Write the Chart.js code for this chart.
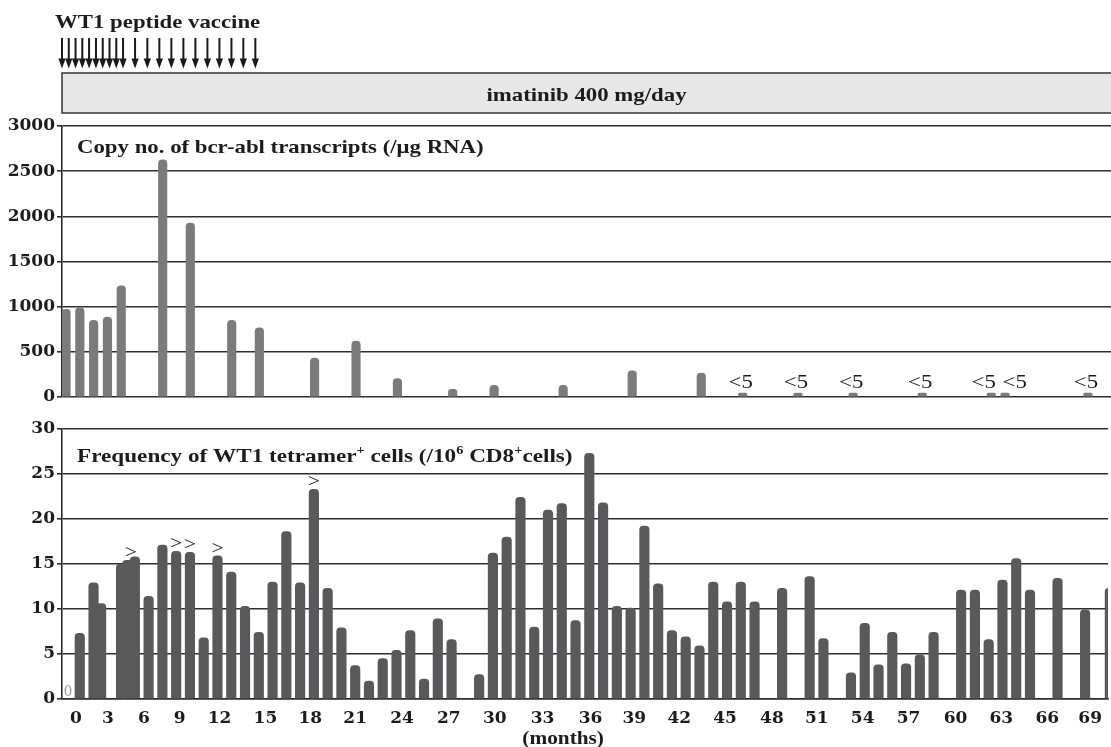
<!DOCTYPE html>
<html>
<head>
<meta charset="utf-8">
<script src="https://cdn.jsdelivr.net/npm/chart.js@4.4.0/dist/chart.umd.min.js"></script>
<style>
  html, body { margin: 0; padding: 0; background: #fff; }
  #wrap { position: relative; width: 1111px; height: 747px; overflow: hidden; }
  canvas { position: absolute; left: 0; }
  #topChart { top: 0; }
  #bottomChart { top: 410px; }
</style>
</head>
<body>
<div id="wrap">
  <canvas id="topChart" width="1111" height="410"></canvas>
  <canvas id="bottomChart" width="1111" height="337"></canvas>
</div>
<script>
// ==========================
// DATA (x = sample column / slot as laid out in the figure)
// ==========================
const xMin = -0.29;
const xMax = 75.67;

// months axis labels and the slot they sit under
const monthTickLabels = [0, 3, 6, 9, 12, 15, 18, 21, 24, 27, 30, 33, 36, 39, 42, 45, 48, 51, 54, 57, 60, 63, 66, 69];
const monthTickSlots = [0.72, 3.04, 5.65, 8.25, 11.15, 14.48, 17.74, 21.0, 24.4, 27.8, 31.14, 34.6, 38.09, 41.27, 44.53, 47.86, 51.26, 54.52, 57.85, 61.18, 64.59, 67.92, 71.25, 74.37];
const monthsTitleSlot = 36.1; // "(months)" sits under the 33-36 gap

// WT1 peptide vaccine injections
const vaccineSlots = [-0.29, 0.2, 0.69, 1.18, 1.67, 2.17, 2.66, 3.15, 3.64, 4.13,
  5.0, 5.89, 6.76, 7.63, 8.5, 9.37, 10.24, 11.11, 11.98, 12.84, 13.71];

// bcr-abl copies (/ug RNA)
const bcrSlots = [0, 1, 2, 3, 4, 7, 9, 12, 14, 18, 21, 24, 28, 31, 36, 41, 46, 49, 53, 57, 62, 67, 68, 74];
const bcrCopies = [970, 988, 850, 885, 1230, 2625, 1925, 850, 765, 430, 620, 205, 85, 130, 130, 290, 265, 5, 5, 5, 5, 5, 5, 5];
const bcrBelowLimit = [49, 53, 57, 62, 67, 68, 74]; // "<5"

// WT1 tetramer+ cells (/10^6 CD8+ cells)
const wt1Slots = [1, 2, 2.55, 4, 4.45, 5, 6, 7, 8, 9, 10, 11, 12, 13, 14, 15, 16, 17, 18, 19, 20,
  21, 22, 23, 24, 25, 26, 27, 28, 30, 31, 32, 33, 34, 35, 36, 37, 38, 39, 40, 41, 42, 43, 44, 45,
  46, 47, 48, 49, 50, 52, 54, 55, 57, 58, 59, 60, 61, 62, 63, 65, 66, 67, 68, 69, 70, 72, 74, 75.8];
const wt1Freq = [7.3, 12.9, 10.6, 15.0, 15.4, 15.8, 11.4, 17.1, 16.4, 16.3, 6.8, 15.9, 14.1, 10.3, 7.4, 13.0, 18.6, 12.9, 23.3, 12.3, 7.9,
  3.7, 2.0, 4.5, 5.4, 7.6, 2.2, 8.9, 6.6, 2.7, 16.2, 18.0, 22.4, 8.0, 21.0, 21.7, 8.7, 27.3, 21.8, 10.3, 10.1, 19.2, 12.8, 7.6, 6.9,
  5.9, 13.0, 10.8, 13.0, 10.8, 12.3, 13.6, 6.7, 2.9, 8.4, 3.8, 7.4, 3.9, 4.9, 7.4, 12.1, 12.1, 6.6, 13.2, 15.6, 12.1, 13.4, 9.9, 12.3];
const wt1AboveSlots = [4.7, 8, 9, 11, 18]; // ">"
const wt1ZeroSlot = 0.15;                 // measured 0

// ==========================
// STYLE
// ==========================
const serif = '"Liberation Serif", "Times New Roman", serif';
const ink = "#1c1c1c";
const gridColor = "#2e2e2e";
const tickFont = { family: '"DejaVu Serif", serif', size: 17, weight: "bold" };

function stretchText(ctx, text, x, y, font, align, sx) {
  ctx.save();
  ctx.font = font;
  ctx.fillStyle = ink;
  ctx.textAlign = align;
  ctx.textBaseline = "alphabetic";
  ctx.translate(x, y);
  ctx.scale(sx, 1);
  ctx.fillText(text, 0, 0);
  ctx.restore();
}

// text with superscript pieces, left aligned
function drawRuns(ctx, runs, x, y, size, sx) {
  ctx.save();
  ctx.fillStyle = ink;
  ctx.textBaseline = "alphabetic";
  ctx.translate(x, y);
  ctx.scale(sx, 1);
  let cx = 0;
  runs.forEach(r => {
    const s = r.sup ? size * 0.62 : size;
    ctx.font = "bold " + s + "px " + serif;
    ctx.fillText(r.t, cx, r.sup ? -size * 0.42 : 0);
    cx += ctx.measureText(r.t).width;
  });
  ctx.restore();
}

function yAxis(max, step) {
  return {
    min: 0, max: max,
    afterFit(scale) { scale.width = 62; },
    ticks: { stepSize: step, padding: 2, color: ink, font: tickFont, callback: v => String(v) },
    grid: { color: gridColor, lineWidth: 1.6, tickLength: 5, drawTicks: true },
    border: { display: true, color: "#2a2a2a", width: 1.6 }
  };
}

// ==========================
// TOP PANEL: bcr-abl
// ==========================
const topDecor = {
  id: "topDecor",
  afterDraw(chart) {
    const ctx = chart.ctx;
    const xs = chart.scales.x, ys = chart.scales.y;
    const area = chart.chartArea;

    stretchText(ctx, "WT1 peptide vaccine", 55, 28, "bold 19px " + serif, "left", 1.2);

    // vaccine arrows
    ctx.save();
    ctx.strokeStyle = "#1a1a1a";
    ctx.fillStyle = "#1a1a1a";
    ctx.lineWidth = 2;
    vaccineSlots.forEach(s => {
      const px = xs.getPixelForValue(s);
      ctx.beginPath();
      ctx.moveTo(px, 38);
      ctx.lineTo(px, 60);
      ctx.stroke();
      ctx.beginPath();
      ctx.moveTo(px - 3.6, 58.5);
      ctx.lineTo(px + 3.6, 58.5);
      ctx.lineTo(px, 68.5);
      ctx.closePath();
      ctx.fill();
    });
    ctx.restore();

    // imatinib box
    ctx.save();
    ctx.fillStyle = "#e7e7e7";
    ctx.strokeStyle = "#333";
    ctx.lineWidth = 1.5;
    ctx.fillRect(area.left, 73, area.right - area.left + 10, 40);
    ctx.strokeRect(area.left, 73, area.right - area.left + 10, 40);
    ctx.restore();
    stretchText(ctx, "imatinib 400 mg/day", (area.left + area.right) / 2, 101, "bold 19px " + serif, "center", 1.2);

    stretchText(ctx, "Copy no. of bcr-abl transcripts (/μg RNA)", 77, 153, "bold 19px " + serif, "left", 1.2);

    // "<5" marks, pushed apart where two sit side by side
    const pos = bcrBelowLimit.map(s => xs.getPixelForValue(s) - 2);
    for (let i = 1; i < pos.length; i++) {
      const gap = pos[i] - pos[i - 1];
      if (gap < 31) {
        pos[i - 1] -= (31 - gap) / 2 - 3;
        pos[i] += (31 - gap) / 2 + 3;
      }
    }
    pos.forEach(px => {
      stretchText(ctx, "<5", px, ys.getPixelForValue(0) - 9, "19px " + serif, "center", 1.2);
    });
  }
};

new Chart(document.getElementById("topChart"), {
  type: "bar",
  data: {
    datasets: [{
      data: bcrSlots.map((s, i) => ({ x: s, y: bcrCopies[i] })),
      backgroundColor: "#7b7b7d",
      barThickness: 8.5,
      borderRadius: 4,
      minBarLength: 4
    }]
  },
  options: {
    responsive: false,
    animation: false,
    layout: { padding: { top: 126, bottom: 13, left: 0, right: 0 } },
    plugins: { legend: { display: false }, tooltip: { enabled: false } },
    scales: {
      x: { type: "linear", min: xMin, max: xMax, offset: false, display: false },
      y: yAxis(3000, 500)
    }
  },
  plugins: [topDecor]
});

// ==========================
// BOTTOM PANEL: WT1 tetramer+
// ==========================
const bottomDecor = {
  id: "bottomDecor",
  afterDraw(chart) {
    const ctx = chart.ctx;
    const xs = chart.scales.x, ys = chart.scales.y;

    drawRuns(ctx, [
      { t: "Frequency of WT1 tetramer" }, { t: "+", sup: true },
      { t: " cells (/10" }, { t: "6", sup: true },
      { t: " CD8" }, { t: "+", sup: true }, { t: "cells)" }
    ], 77, 52, 19, 1.22);

    // ">" marks above bars
    wt1AboveSlots.forEach(s => {
      let best = 0;
      wt1Slots.forEach((w, i) => { if (Math.abs(w - s) < Math.abs(wt1Slots[best] - s)) best = i; });
      const top = ys.getPixelForValue(wt1Freq[best]);
      stretchText(ctx, ">", xs.getPixelForValue(s), top - 2, "18px " + serif, "center", 1.2);
    });

    // grey zero
    ctx.save();
    ctx.font = "16px " + serif;
    ctx.fillStyle = "#a0a0a0";
    ctx.textAlign = "center";
    ctx.fillText("0", xs.getPixelForValue(wt1ZeroSlot), ys.getPixelForValue(0) - 3);
    ctx.restore();

    // axis title
    stretchText(ctx, "(months)", xs.getPixelForValue(monthsTitleSlot), chart.height - 3, "bold 19px " + serif, "center", 1.12);
  }
};

new Chart(document.getElementById("bottomChart"), {
  type: "bar",
  data: {
    datasets: [{
      data: wt1Slots.map((s, i) => ({ x: s, y: wt1Freq[i] })),
      backgroundColor: "#59595b",
      barThickness: 9.5,
      borderRadius: 4
    }]
  },
  options: {
    responsive: false,
    animation: false,
    layout: { padding: { top: 19, bottom: 0, left: 0, right: 0 } },
    plugins: { legend: { display: false }, tooltip: { enabled: false } },
    scales: {
      x: {
        type: "linear", min: xMin, max: xMax, offset: false,
        afterBuildTicks(scale) { scale.ticks = monthTickSlots.map(v => ({ value: v })); },
        afterFit(scale) { scale.height = 48; },
        ticks: {
          autoSkip: false, maxRotation: 0, padding: 9, color: ink, font: tickFont,
          callback: (v, i) => monthTickLabels[i]
        },
        grid: { display: false, drawTicks: false },
        border: { display: true, color: "#2a2a2a", width: 1.6 },
        title: { display: false }
      },
      y: yAxis(30, 5)
    }
  },
  plugins: [bottomDecor]
});
</script>
</body>
</html>
